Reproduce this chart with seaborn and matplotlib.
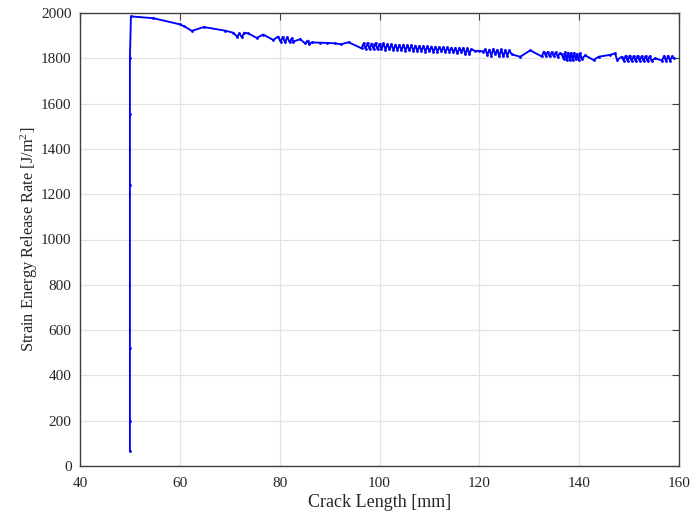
import matplotlib
matplotlib.use("Agg")
import matplotlib.pyplot as plt
import seaborn as sns
import pandas as pd

# Crack length [mm] and strain energy release rate [J/m^2]
crack_length = [
    50.0, 50.0, 50.0, 50.0, 50.0, 50.0, 50.2,
    54.7, 60.0, 60.9, 62.4, 64.8, 69.1, 70.7, 71.5, 71.9, 72.4, 72.9, 73.7,
    75.4, 76.7, 78.7, 79.7, 80.2, 80.6, 81.1, 81.5, 82.0, 82.4, 82.7, 84.1,
    85.1, 85.6, 85.9, 86.4, 88.0, 89.5, 91.0, 92.3, 93.8, 96.4,
    96.8, 97.2, 97.6, 98.0, 98.4, 98.8, 99.2, 99.6, 100.0, 100.4, 100.8,
    101.2, 101.6, 102.0, 102.4, 102.8, 103.2, 103.6, 104.0, 104.4, 104.8,
    105.2, 105.6, 106.0, 106.4, 106.8, 107.2, 107.6, 108.0, 108.4, 108.8,
    109.2, 109.6, 110.0, 110.4, 110.8, 111.2, 111.6, 112.0, 112.4, 112.8,
    113.2, 113.6, 114.0, 114.4, 114.8, 115.2, 115.6, 116.0, 116.4, 116.8,
    117.2, 117.6, 118.0, 118.4,
    119.2, 120.0, 120.8,
    121.2, 121.6, 122.0, 122.4, 122.8, 123.2, 123.6, 124.0, 124.4, 124.8,
    125.2, 125.6, 126.0,
    126.5, 128.2, 130.2, 132.5,
    132.9, 133.3, 133.7, 134.1, 134.5, 134.9, 135.3, 135.7, 136.1, 136.5,
    136.9, 137.2, 137.5, 137.8, 138.1, 138.4, 138.7, 139.0, 139.3, 139.6,
    139.9, 140.2, 140.5, 141.2,
    142.9, 143.9, 146.2, 147.2, 147.6, 148.5,
    148.9, 149.3, 149.7, 150.1, 150.5, 150.9, 151.3, 151.7, 152.1, 152.5,
    152.9, 153.3, 153.7, 154.1, 154.5, 155.2, 156.6,
    157.0, 157.4, 157.8, 158.2, 158.6, 158.9,
]
release_rate = [
    66, 200, 522, 1241, 1554, 1800, 1985,
    1977, 1950, 1941, 1921, 1938, 1922, 1913, 1895, 1910, 1893, 1913, 1910,
    1890, 1905, 1881, 1896, 1872, 1894, 1870, 1893, 1871, 1888, 1874, 1884,
    1866, 1878, 1862, 1870, 1869, 1868, 1866, 1862, 1871, 1844,
    1866, 1841, 1868, 1840, 1865, 1842, 1867, 1839, 1864, 1840, 1866,
    1838, 1863, 1839, 1862, 1836, 1860, 1837, 1859, 1835, 1860,
    1834, 1857, 1835, 1858, 1833, 1856, 1832, 1855, 1833, 1854,
    1830, 1853, 1831, 1852, 1829, 1851, 1830, 1850, 1832, 1849,
    1828, 1848, 1830, 1847, 1826, 1846, 1822, 1845, 1828, 1846,
    1818, 1844, 1820, 1840,
    1832, 1833, 1830,
    1840, 1815, 1838, 1812, 1841, 1818, 1837, 1810, 1839, 1808,
    1836, 1812, 1835,
    1817, 1807, 1835, 1808,
    1829, 1812, 1828, 1808, 1827, 1810, 1826, 1807, 1822, 1817,
    1796, 1826, 1792, 1825, 1794, 1823, 1791, 1824, 1795, 1820,
    1793, 1822, 1797, 1813,
    1792, 1807, 1815, 1822, 1792, 1807,
    1790, 1811, 1788, 1812, 1789, 1810, 1787, 1811, 1790, 1809,
    1788, 1810, 1787, 1809, 1789, 1800, 1790,
    1810, 1788, 1811, 1789, 1808, 1800,
]

x_ticks = [40, 60, 80, 100, 120, 140, 160]
y_ticks = [0, 200, 400, 600, 800, 1000, 1200, 1400, 1600, 1800, 2000]

df = pd.DataFrame({"a": crack_length, "G": release_rate})

sns.set_theme(style="whitegrid")
plt.rcParams["font.family"] = ["Liberation Serif", "DejaVu Serif"]
plt.rcParams["mathtext.fontset"] = "custom"
plt.rcParams["mathtext.rm"] = "Liberation Serif"
plt.rcParams["mathtext.it"] = "Liberation Serif:italic"

text_color = "#262626"
fig = plt.figure(figsize=(6.91, 5.17), dpi=100)
ax = fig.add_axes([80 / 691, 1 - 466 / 517, 599 / 691, 453 / 517])

sns.lineplot(data=df, x="a", y="G", sort=False, estimator=None, ax=ax,
             color="#0000ff", linewidth=1.35, marker=".", markersize=4,
             markeredgewidth=0)

ax.set_xlim(40, 160)
ax.set_ylim(0, 2000)
ax.set_xticks(x_ticks)
ax.set_yticks(y_ticks)
ax.grid(True, color="#e3e3e3", linewidth=0.9)
ax.set_facecolor("white")
for s in ax.spines.values():
    s.set_visible(True)
    s.set_color("#404040")
    s.set_linewidth(1.0)
ax.tick_params(direction="in", length=5, width=0.8, color="#404040",
               top=True, right=True, labelsize=11, labelcolor=text_color)
ax.tick_params(axis="x", pad=8)
ax.tick_params(axis="y", pad=6)
ax.set_xlabel("Crack Length [mm]", fontsize=13, color=text_color, labelpad=3)
ax.set_ylabel("Strain Energy Release Rate [J/m$^2$]", fontsize=11.8,
              color=text_color, labelpad=1)

fig.savefig("out.png", dpi=100, facecolor="white")
